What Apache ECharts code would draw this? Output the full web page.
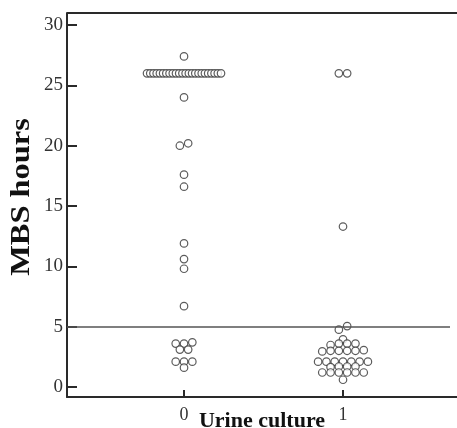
<!DOCTYPE html>
<html><head><meta charset="utf-8">
<script src="https://cdn.jsdelivr.net/npm/echarts@6/dist/echarts.min.js"></script>
<style>html,body{margin:0;padding:0;background:#fff;overflow:hidden}#c{width:457px;height:428px}</style>
</head><body><div id="c"></div>
<script>
// ---- data ----
const categories = ['0', '1'];
const yTicks = [0, 5, 10, 15, 20, 25, 30];
const refLineValue = 5;
const urine0 = [27.4,
  26, 26, 26, 26, 26, 26, 26, 26, 26, 26, 26, 26,
  26, 26, 26, 26, 26, 26, 26, 26, 26, 26, 26, 26,
  24.0, 20.0, 20.2, 17.6, 16.6, 11.9, 10.6, 9.8, 6.7,
  3.6, 3.6, 3.7, 3.1, 3.1, 2.1, 2.1, 2.1, 1.6];
const urine1 = [26, 26, 13.3,
  5.05, 4.75, 3.95,
  3.6, 3.6, 3.6, 3.48,
  3.0, 3.0, 3.05, 3.0, 2.95, 3.0,
  2.1, 2.1, 2.1, 2.1, 2.1, 2.1, 2.1,
  1.7, 1.65, 1.7, 1.7,
  1.2, 1.2, 1.2, 1.2, 1.2, 1.2,
  0.6];
const xTitle = 'Urine culture';
const yTitle = 'MBS hours';

// ---- layout ----
const GRID = {left: 67, right: 0, top: 13, bottom: 31, outerBoundsMode: 'none', containLabel: false};
const X_MIN = -0.736, X_MAX = 1.717;
const Y_MIN = -0.83, Y_MAX = 31;
const unitsPerPx = (X_MAX - X_MIN) / (457 - GRID.left - GRID.right);
const STEP_PX = 8.3, MAXW_PX = 74, TOL = 0.32;

function swarm(values, center) {
  const sorted = values.map((v, i) => ({v, i})).sort((a, b) => b.v - a.v || a.i - b.i);
  const clusters = []; let cur = null;
  for (const p of sorted) {
    if (cur && cur.start - p.v <= TOL + 1e-9) cur.pts.push(p);
    else { cur = {start: p.v, pts: [p]}; clusters.push(cur); }
  }
  const out = [];
  for (const c of clusters) {
    const pts = c.pts.slice().sort((a, b) => a.v - b.v || a.i - b.i);
    const n = pts.length;
    const step = n > 1 ? Math.min(STEP_PX, MAXW_PX / (n - 1)) : 0;
    pts.forEach((p, k) => {
      const off = (k - (n - 1) / 2) * step;
      out.push([center + off * unitsPerPx, p.v]);
    });
  }
  return out;
}

const serif = 'Liberation Serif';
const axisColor = '#2a2a2a';
const chart = echarts.init(document.getElementById('c'), null, {renderer: 'canvas'});
const pointStyle = {color: '#fff', borderColor: '#333', borderWidth: 1.2};

chart.setOption({
  animation: false,
  backgroundColor: '#fff',
  grid: GRID,
  graphic: [{
    type: 'text', x: 22, y: 197, rotation: Math.PI / 2, scaleX: 1.2, scaleY: 1,
    style: {text: yTitle, font: 'bold 27px "Liberation Serif"', fill: '#111',
      align: 'center', verticalAlign: 'middle'}
  }, {
    // right margin strip: the reference line stops short of the edge and no right border is drawn
    type: 'rect', z: 100, silent: true,
    shape: {x: 450, y: 15, width: 8, height: 381},
    style: {fill: '#fff'}
  }],
  xAxis: {
    type: 'value', min: X_MIN, max: X_MAX, position: 'bottom',
    axisLine: {show: true, onZero: false, lineStyle: {color: axisColor, width: 2}},
    axisTick: {show: true, inside: true, length: 7, customValues: [0, 1], lineStyle: {color: axisColor, width: 2}},
    axisLabel: {customValues: [0, 1], formatter: v => categories[Math.round(v)], margin: 9,
      fontFamily: serif, fontSize: 18, color: '#333'},
    splitLine: {show: false},
    name: xTitle, nameLocation: 'middle', nameGap: 13, nameMoveOverlap: false,
    nameTextStyle: {fontFamily: serif, fontWeight: 'bold', fontSize: 22, color: '#111'}
  },
  yAxis: {
    type: 'value', min: Y_MIN, max: Y_MAX, position: 'left',
    axisLine: {show: true, onZero: false, lineStyle: {color: axisColor, width: 2}},
    axisTick: {show: true, inside: true, length: 10, customValues: yTicks, lineStyle: {color: axisColor, width: 2}},
    axisLabel: {customValues: yTicks, margin: 4, fontFamily: serif, fontSize: 19, color: '#333'},
    splitLine: {show: false}
  },
  series: [{
    type: 'scatter', symbol: 'circle', symbolSize: 7.5,
    itemStyle: pointStyle, data: swarm(urine0, 0),
    markLine: {silent: true, symbol: 'none', label: {show: false},
      data: [
        {yAxis: refLineValue, lineStyle: {color: '#555', width: 1.6, type: 'solid'}},
        {yAxis: Y_MAX, lineStyle: {color: axisColor, width: 2, type: 'solid'}}
      ]}
  }, {
    type: 'scatter', symbol: 'circle', symbolSize: 7.5,
    itemStyle: pointStyle, data: swarm(urine1, 1)
  }]
});
</script></body></html>
